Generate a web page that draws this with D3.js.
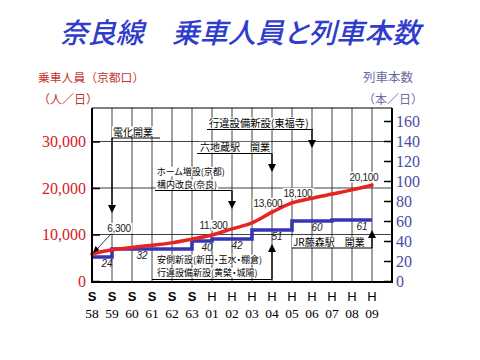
<!DOCTYPE html>
<html><head><meta charset="utf-8">
<script src="https://cdn.jsdelivr.net/npm/d3@7"></script>
<style>
html,body{margin:0;padding:0;background:#fff;}
svg{display:block;}
.jp{font-family:"Noto Sans CJK JP",sans-serif;font-feature-settings:"palt";}
.jpw{font-family:"Noto Sans CJK JP",sans-serif;}
</style></head><body>
<svg id="c" width="480" height="360"></svg>
<script>
// ---- data ----
const categories = ["S58","S59","S60","S61","S62","S63","H01","H02","H03","H04","H05","H06","H07","H08","H09"];
const eraLabels  = ["S","S","S","S","S","S","H","H","H","H","H","H","H","H","H"];
const yearLabels = ["58","59","60","61","62","63","01","02","03","04","05","06","07","08","09"];
const passengers = [5800,6700,7200,7700,8200,9000,9900,11200,12500,14800,16800,17800,18700,19600,20600];
const trains     = [24,32,32,32,32,40,42,42,51,51,60,60,61,61,61];
const leftTicks  = [0,10000,20000,30000];
const rightTicks = [0,20,40,60,80,100,120,140,160];
const passengerLabels = ["6,300","11,300","13,600","18,100","20,100"];
const titleText = "奈良線　乗車人員と列車本数";
const leftTitle = ["乗車人員（京都口）","（人／日）"];
const rightTitle = ["列車本数","（本／日）"];
const noteTexts = [
  ["電化開業"],
  ["行違設備新設(東福寺)"],
  ["六地蔵駅　開業"],
  ["ホーム増設(京都)","構内改良(奈良)"],
  ["安側新設(新田・玉水・棚倉)","行違設備新設(黄檗・城陽)"],
  ["JR藤森駅　開業"]
];
const noteCats = ["S59","H06","H04","H02","H04","H09"];

// ---- layout ----
const svg = d3.select("#c");
const L = 92, R = 392, T = 108, B = 281;
const x = d3.scalePoint().domain(categories).range([92, 372]);
const yL = d3.scaleLinear().domain([0, 37200]).range([B, T]);
const yR = d3.scaleLinear().domain([0, 173]).range([B, T]);

const gGrid = svg.append("g");
const gBg = svg.append("g");
const gSeries = svg.append("g");
const gNotes = svg.append("g");
const gAxes = svg.append("g");

// title
svg.append("text").attr("class","jp").attr("x",240).attr("y",43)
  .attr("text-anchor","middle").attr("font-size",28).attr("font-style","italic")
  .attr("font-weight",500).attr("fill","#2f3ccc").text(titleText);
svg.append("text").attr("class","jpw").attr("x",38).attr("y",82).attr("font-size",11.8)
  .attr("fill","#c83232").text(leftTitle[0]);
svg.append("text").attr("class","jpw").attr("x",38).attr("y",104).attr("font-size",12)
  .attr("fill","#c83232").text(leftTitle[1]);
svg.append("text").attr("class","jpw").attr("x",413).attr("y",82).attr("font-size",12.5)
  .attr("text-anchor","end").attr("fill","#6a6aa2").text(rightTitle[0]);
svg.append("text").attr("class","jpw").attr("x",423).attr("y",104).attr("font-size",12)
  .attr("text-anchor","end").attr("fill","#6a6aa2").text(rightTitle[1]);

// grid
gGrid.selectAll("line.v").data(categories).join("line")
  .attr("x1",d=>x(d)).attr("x2",d=>x(d)).attr("y1",T).attr("y2",B)
  .attr("stroke","#111").attr("stroke-width",0.8);
gGrid.selectAll("line.h").data(leftTicks.filter(d=>d>0)).join("line")
  .attr("x1",L).attr("x2",R).attr("y1",d=>yL(d)).attr("y2",d=>yL(d))
  .attr("stroke","#111").attr("stroke-width",0.8);

// series
const blueLine = d3.line().x((d,i)=>x(categories[i])).y(d=>yR(d)).curve(d3.curveStepAfter);
gSeries.append("path").attr("d",blueLine(trains)).attr("fill","none")
  .attr("stroke","#3535b5").attr("stroke-width",3.6);
const redLine = d3.line().x((d,i)=>x(categories[i])).y(d=>yL(d)).curve(d3.curveMonotoneX);
gSeries.append("path").attr("d",redLine(passengers)).attr("fill","none")
  .attr("stroke","#e82420").attr("stroke-width",3.5).attr("stroke-linecap","round");

// helpers
function bgText(sel, fs){
  const bb = sel.node().getBBox();
  const y = +sel.attr("y");
  gBg.append("rect").attr("x",bb.x-1).attr("y",y-fs*0.92).attr("width",bb.width+2)
    .attr("height",fs*1.08).attr("fill","#fff");
}
function arrowHead(ax, tipY, dir){ // dir 1 = down, -1 = up
  gNotes.append("path")
    .attr("d",`M${ax-4},${tipY-dir*8}L${ax+4},${tipY-dir*8}L${ax},${tipY}Z`)
    .attr("fill","#000");
}
function note(idx, tx, baselines, uy, ux1, ux2, tipY, fs){
  noteTexts[idx].forEach((s,k)=>{
    const t = gNotes.append("text").attr("class","jp").attr("x",tx).attr("y",baselines[k])
      .attr("font-size",fs).attr("fill","#000").text(s);
    bgText(t, fs);
  });
  const ax = x(noteCats[idx]);
  gNotes.append("line").attr("x1",ux1).attr("x2",ux2).attr("y1",uy).attr("y2",uy)
    .attr("stroke","#000").attr("stroke-width",1.2);
  const dir = tipY > uy ? 1 : -1;
  gNotes.append("line").attr("x1",ax).attr("x2",ax).attr("y1",uy).attr("y2",tipY-dir*7)
    .attr("stroke","#000").attr("stroke-width",1.3);
  arrowHead(ax, tipY, dir);
}
note(0, 113, [135.5], 138, 112, 160, 213, 10);
note(1, 209, [127], 129.5, 207, 313, 148, 10.3);
note(2, 200, [151], 153.5, 197, 272, 172, 10);
note(3, 157, [175, 188], 190.5, 155, 232, 209, 9);
note(4, 157, [263, 276], 279.5, 152, 272, 244, 9);
note(5, 293, [246], 248, 292, 372, 230, 10);

// passenger value labels
const pPos = [[119,232],[213.5,229],[268,207],[298,197],[364,181]];
passengerLabels.forEach((s,i)=>{
  const t = gNotes.append("text").attr("x",pPos[i][0]).attr("y",pPos[i][1])
    .attr("text-anchor","middle").style("font-family","'Liberation Sans', Arial, sans-serif")
    .attr("font-size",10).attr("fill","#222").attr("letter-spacing",-0.3).text(s);
  bgText(t, 10);
});
// small arrow for 6,300
gNotes.append("line").attr("x1",111).attr("y1",234).attr("x2",97).attr("y2",249)
  .attr("stroke","#000").attr("stroke-width",0.8);
gNotes.append("path").attr("d","M93,253L95.5,246L99.5,250Z").attr("fill","#000");

// train step labels (one per run)
const runs = [];
trains.forEach((v,i)=>{
  if(i===0 || v!==trains[i-1]) runs.push({v, s:i, e:i+1});
  else runs[runs.length-1].e = i+1;
});
runs.forEach(r=>{
  const xs = x(categories[r.s]);
  const xe = r.e < categories.length ? x(categories[r.e]) : x(categories[categories.length-1]);
  const xm = (xs + xe)/2 + 5;
  gNotes.append("text").attr("x", r.e - r.s > 2 ? xs + 30 : xm).attr("y", yR(r.v)+9.5)
    .attr("text-anchor","middle").style("font-family","'Liberation Sans', Arial, sans-serif")
    .attr("font-style","italic").attr("font-size",10).attr("fill","#222").text(String(r.v));
});

// frame
gAxes.append("line").attr("x1",L).attr("x2",R).attr("y1",T).attr("y2",T).attr("stroke","#000").attr("stroke-width",1.2);
gAxes.append("line").attr("x1",L).attr("x2",R).attr("y1",B+1).attr("y2",B+1).attr("stroke","#000").attr("stroke-width",2);
gAxes.append("line").attr("x1",L).attr("x2",L).attr("y1",T).attr("y2",B+2).attr("stroke","#000").attr("stroke-width",2);
gAxes.append("line").attr("x1",R).attr("x2",R).attr("y1",T).attr("y2",B+2).attr("stroke","#000").attr("stroke-width",2);

// axes
const ax1 = gAxes.append("g").attr("transform",`translate(${L},0)`)
  .call(d3.axisLeft(yL).tickValues(leftTicks).tickSize(-8).tickPadding(6).tickFormat(d3.format(",")));
ax1.select(".domain").remove();
ax1.selectAll(".tick line").attr("stroke","#000").attr("stroke-width",1.5);
ax1.selectAll(".tick text").style("font-family","'Liberation Serif', 'Times New Roman', serif")
  .style("font-size","16px").attr("fill","#d42027");
const ax2 = gAxes.append("g").attr("transform",`translate(${R},0)`)
  .call(d3.axisRight(yR).tickValues(rightTicks).tickSize(-8).tickPadding(4));
ax2.select(".domain").remove();
ax2.selectAll(".tick line").attr("stroke","#000").attr("stroke-width",1.5);
ax2.selectAll(".tick text").style("font-family","'Liberation Serif', 'Times New Roman', serif")
  .style("font-size","16px").attr("fill","#4a4aa6");

// x labels
gAxes.selectAll("text.era").data(categories).join("text").attr("class","era")
  .attr("x",d=>x(d)).attr("y",301).attr("text-anchor","middle")
  .style("font-family","'Liberation Sans', Arial, sans-serif").attr("font-size",13)
  .attr("font-weight",(d,i)=>eraLabels[i]==="S"?"bold":"normal").attr("fill","#000")
  .text((d,i)=>eraLabels[i]);
gAxes.selectAll("text.yr").data(categories).join("text").attr("class","yr")
  .attr("x",d=>x(d)).attr("y",318).attr("text-anchor","middle")
  .style("font-family","'Liberation Serif', 'Times New Roman', serif").attr("font-size",13.5)
  .attr("fill","#000").text((d,i)=>yearLabels[i]);
</script>
</body></html>
